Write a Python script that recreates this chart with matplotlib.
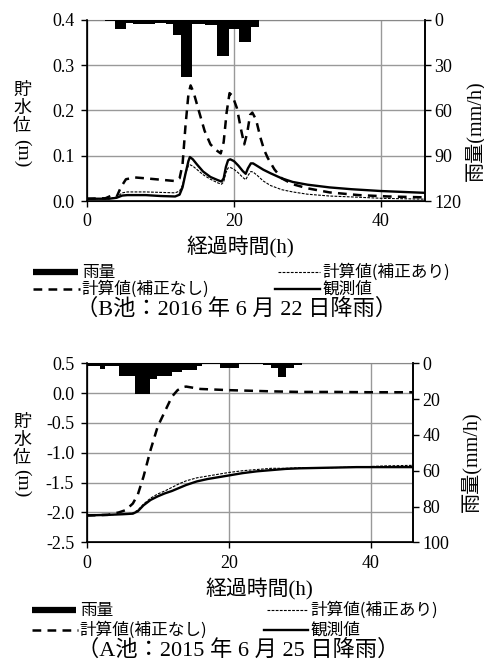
import matplotlib
matplotlib.use("Agg")
import matplotlib.pyplot as plt
from matplotlib.lines import Line2D
from matplotlib.ticker import FormatStrFormatter

plt.rcParams['font.family'] = ['Liberation Serif', 'Noto Sans CJK JP']
plt.rcParams['axes.unicode_minus'] = True

# ---- B池 (2016/6/22) ----
b_rain_edges = [0, 2.5, 3.8, 5.3, 6.2, 9.2, 10.8, 11.7, 12.8, 14.3, 16.0, 17.7, 19.3, 20.7, 22.3, 23.4]
b_rain = [0.5, 1, 6, 2, 3, 2, 3, 10, 38, 3, 3.5, 24, 6, 15, 5]

b_t = [0, 3, 4, 4.8, 5.5, 8, 10, 12, 12.6, 13.0, 13.4, 13.8, 14.0, 14.4, 15.0, 15.8, 16.8, 17.8, 18.3, 18.6,
       18.9, 19.2, 19.5, 20.0, 20.6, 21.2, 21.6, 21.9, 22.3, 22.6, 23.2, 24.0, 25.0, 26.5, 28, 30, 33, 36, 40, 43, 46]
b_obs = [0.005, 0.005, 0.007, 0.012, 0.013, 0.013, 0.011, 0.010, 0.014, 0.03, 0.06, 0.088, 0.097, 0.092, 0.080,
         0.065, 0.053, 0.046, 0.043, 0.050, 0.075, 0.090, 0.092, 0.088, 0.078, 0.066, 0.060, 0.072, 0.083, 0.083,
         0.077, 0.069, 0.061, 0.050, 0.042, 0.036, 0.030, 0.026, 0.022, 0.020, 0.018]
b_corr = [0.005, 0.005, 0.008, 0.018, 0.020, 0.020, 0.019, 0.018, 0.022, 0.035, 0.06, 0.078, 0.080, 0.077, 0.069,
          0.058, 0.048, 0.040, 0.037, 0.042, 0.062, 0.073, 0.074, 0.070, 0.062, 0.052, 0.047, 0.056, 0.065, 0.064,
          0.056, 0.044, 0.034, 0.025, 0.020, 0.015, 0.011, 0.009, 0.006, 0.005, 0.004]
b_t_nc = [0, 2.5, 3.2, 4.0, 4.6, 5.3, 6.5, 8, 10, 12, 12.6, 13.0, 13.4, 13.8, 14.1, 14.5, 15.2, 16.0, 16.8, 17.6,
          18.2, 18.6, 19.0, 19.4, 19.8, 20.4, 21.0, 21.4, 21.8, 22.2, 22.5, 23.0, 23.6, 24.1, 24.6, 25.5, 26.5,
          28, 30, 33, 37, 41, 46]
b_nocorr = [0.005, 0.006, 0.011, 0.008, 0.030, 0.048, 0.052, 0.050, 0.047, 0.044, 0.05, 0.08, 0.165, 0.235, 0.255,
            0.24, 0.20, 0.155, 0.125, 0.112, 0.105, 0.13, 0.195, 0.238, 0.232, 0.205, 0.155, 0.125, 0.15, 0.19,
            0.195, 0.18, 0.14, 0.113, 0.095, 0.07, 0.05, 0.037, 0.028, 0.019, 0.013, 0.010, 0.008]

# ---- A池 (2015/6/25) ----
a_rain_edges = [0, 1.9, 2.6, 4.5, 6.8, 8.9, 9.9, 12.0, 13.4, 15.5, 16.2, 18.8, 21.5, 24.9, 26.0, 27.0, 28.1, 29.2, 30.3]
a_rain = [1.5, 3, 1.5, 7, 17, 9, 7, 5, 4, 1.5, 0.3, 2.5, 0.3, 1, 2.8, 7.5, 2.8, 1]

a_t = [0, 3, 5, 6.5, 7.2, 8, 9, 10, 11, 12, 13, 14, 15.5, 17, 18.5, 20, 22, 24, 26, 28, 30, 34, 38, 42, 46]
a_obs = [-2.05, -2.04, -2.03, -2.02, -1.98, -1.88, -1.79, -1.73, -1.68, -1.64, -1.59, -1.54, -1.48, -1.44, -1.41,
         -1.38, -1.34, -1.31, -1.29, -1.27, -1.26, -1.25, -1.24, -1.24, -1.24]
a_corr = [-2.05, -2.04, -2.03, -2.01, -1.96, -1.86, -1.76, -1.69, -1.64, -1.58, -1.52, -1.47, -1.42, -1.39, -1.36,
          -1.33, -1.30, -1.28, -1.26, -1.26, -1.25, -1.25, -1.24, -1.22, -1.21]
a_t_nc = [0, 3, 4.5, 5.5, 6.5, 7.2, 8, 9, 10, 11, 12, 12.8, 13.5, 14, 15, 16, 18, 20, 23, 26, 30, 35, 40, 46]
a_nocorr = [-2.05, -2.04, -2.0, -1.96, -1.85, -1.70, -1.40, -0.95, -0.56, -0.31, -0.06, 0.05, 0.10, 0.11, 0.09,
            0.07, 0.06, 0.05, 0.04, 0.03, 0.02, 0.02, 0.015, 0.015]

W, H = 485, 669
fig = plt.figure(figsize=(W / 100, H / 100), dpi=100)

def fx(px):
    return px / W

def fy(py):
    return 1 - py / H

lw_nc = dict(color='black', lw=1.8, linestyle=(0, (3.5, 2.5)))
lw_corr = dict(color='black', lw=0.8, linestyle=(0, (2.5, 1.2)))
lw_obs = dict(color='black', lw=1.7)


def panel(rect, t, obs, corr, t_nc, nocorr, edges, rain, ylim, yticks, rlim, rticks):
    ax = fig.add_axes(rect)
    ax.set_xlim(0, 46)
    ax.set_ylim(*ylim)
    ax.set_xticks([0, 20, 40])
    ax.set_yticks(yticks)
    ax.yaxis.set_major_formatter(FormatStrFormatter('%.1f'))
    ax.grid(True, color='#999999', lw=1)
    ax.set_axisbelow(True)
    ax.tick_params(direction='out', length=4, width=1, labelsize=13, pad=5)
    for s in ['left', 'bottom', 'right']:
        ax.spines[s].set_linewidth(1.2)
    ax.spines['top'].set_color('#888888')
    ax.plot(t_nc, nocorr, **lw_nc)
    ax.plot(t, corr, **lw_corr)
    ax.plot(t, obs, **lw_obs)

    ax2 = ax.twinx()
    ax2.set_ylim(rlim, 0)
    ax2.set_yticks(rticks)
    ax2.tick_params(direction='out', length=4, width=1, labelsize=13, pad=2.5)
    ax2.spines['right'].set_linewidth(1.2)
    ax2.spines['top'].set_visible(False)
    ax2.stairs(rain, edges, fill=True, color='black', baseline=0)
    return ax


def ylabels(ycenters, xc, ym, rx, ry):
    for ch, yc in zip('貯水位', ycenters):
        fig.text(fx(xc), fy(yc), ch, fontsize=13, ha='center', va='center', family=['Noto Sans CJK JP'])
    fig.text(fx(xc), fy(ym), '(m)', fontsize=14, ha='center', va='center', rotation=270)
    fig.text(fx(rx), fy(ry), '雨量(mm/h)', fontsize=14.5, ha='center', va='center', rotation=90)


def legend(y1, y2, x0, x1, x2, x3, cap_y, cap_x, caption):
    jp = ['Noto Sans CJK JP']
    fig.add_artist(Line2D([fx(x0), fx(x1)], [fy(y1), fy(y1)], color='black', lw=4.5, solid_capstyle='butt'))
    fig.text(fx(x1 + 4), fy(y1), '雨量', fontsize=12, va='center', family=jp)
    fig.add_artist(Line2D([fx(x2), fx(x3)], [fy(y1), fy(y1)], **lw_corr))
    fig.text(fx(x3 + 2), fy(y1), '計算値(補正あり)', fontsize=12, va='center', family=jp)
    fig.add_artist(Line2D([fx(x0), fx(x1 + 2)], [fy(y2), fy(y2)], **lw_nc))
    fig.text(fx(x1 + 3), fy(y2), '計算値(補正なし)', fontsize=12, va='center', family=jp)
    fig.add_artist(Line2D([fx(x2 - 3), fx(x3)], [fy(y2), fy(y2)], **lw_obs))
    fig.text(fx(x3 + 2), fy(y2), '観測値', fontsize=12, va='center', family=jp)
    fig.text(fx(cap_x), fy(cap_y), caption, fontsize=16, ha='center', va='center')


# top panel (B池)
panel([fx(87), fy(201), fx(425) - fx(87), fy(19.7) - fy(201)],
      b_t, b_obs, b_corr, b_t_nc, b_nocorr, b_rain_edges, b_rain,
      (0, 0.4), [0, 0.1, 0.2, 0.3, 0.4], 120, [0, 30, 60, 90, 120])
fig.text(fx(240), fy(247), '経過時間(h)', fontsize=15, ha='center', va='center')
ylabels([90, 108, 126], 22, 153, 475, 131)
legend(272, 289, 33, 78, 278, 320, 309, 237, '（B池：2016 年 6 月 22 日降雨）')

# bottom panel (A池)
panel([fx(86.7), fy(542.3), fx(413.3) - fx(86.7), fy(363.3) - fy(542.3)],
      a_t, a_obs, a_corr, a_t_nc, a_nocorr, a_rain_edges, a_rain,
      (-2.5, 0.5), [-2.5, -2.0, -1.5, -1.0, -0.5, 0.0, 0.5], 100, [0, 20, 40, 60, 80, 100])
fig.text(fx(259), fy(589), '経過時間(h)', fontsize=15, ha='center', va='center')
ylabels([422, 440, 458], 22, 483, 471, 462)
legend(610, 630, 32, 76, 267, 308, 650, 238, '（A池：2015 年 6 月 25 日降雨）')

fig.savefig('out.png', dpi=100)
plt.close()
